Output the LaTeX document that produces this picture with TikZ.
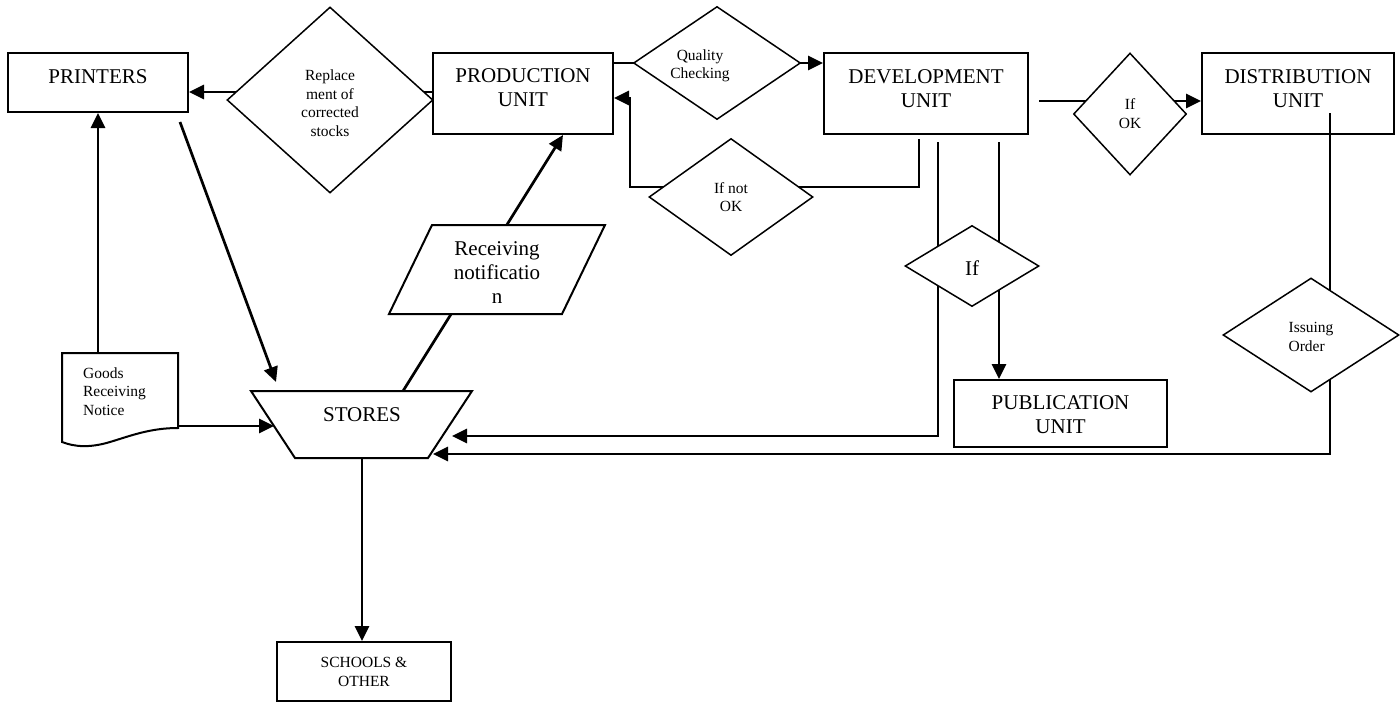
\documentclass[tikz,border=0pt]{standalone}
\usepackage{fontspec}
\setmainfont{Liberation Serif}
\usetikzlibrary{shapes.geometric,arrows.meta}
\pgfdeclarelayer{background}
\pgfsetlayers{background,main}

\tikzset{
  box/.style={draw, line width=2pt, rectangle, inner sep=0pt},
  dia/.style={draw, line width=1.5pt, diamond, fill=white, inner sep=0pt},
  big/.style={font=\fontsize{21}{24}\selectfont, align=center, inner sep=0pt},
  small/.style={font=\fontsize{15.5}{18.5}\selectfont, align=center, inner sep=0pt},
  outline/.style={line width=2pt, fill=white, line join=miter},
  conn/.style={line width=2.7pt, line join=miter},
  arr/.style={conn, -{Triangle[length=15pt,width=14pt]}},
}

\begin{document}
\begin{tikzpicture}[x=1pt,y=-1pt]
\useasboundingbox (0,0) rectangle (1400,704);

% process boxes
\node[box, minimum width=180, minimum height=59] (printers) at (98,82.5) {};
\node[big] (printersT) at (98,77) {PRINTERS};
\node[box, minimum width=180, minimum height=81] (prod) at (523,93.5) {};
\node[big] (prodT) at (523,88) {PRODUCTION\\UNIT};
\node[box, minimum width=204, minimum height=81] (dev) at (926,93.5) {};
\node[big] (devT) at (926,89) {DEVELOPMENT\\UNIT};
\node[box, minimum width=192, minimum height=81] (dist) at (1298,93.5) {};
\node[big] (distT) at (1298,89) {DISTRIBUTION\\UNIT};
\node[box, minimum width=213, minimum height=67] (pub) at (1060.5,413.5) {};
\node[big] (pubT) at (1060.5,415) {PUBLICATION\\UNIT};
\node[box, minimum width=174, minimum height=59] (schools) at (364,671.5) {};
\node[small] (schoolsT) at (364,672) {SCHOOLS \&\\OTHER};

% decisions
\node[dia, minimum width=206, minimum height=186] (replace) at (330,100) {};
\node[small] (replaceT) at (330,103) {Replace\\ment of\\corrected\\stocks};
\node[dia, minimum width=167, minimum height=113] (quality) at (717,63) {};
\node[small] (qualityT) at (700,66) {Quality\\Checking};
\node[dia, minimum width=164, minimum height=117] (ifnot) at (731,197) {};
\node[small] (ifnotT) at (731,197) {If not\\OK};
\node[dia, minimum width=113, minimum height=122] (ifok) at (1130,114) {};
\node[small] (ifokT) at (1130,113.5) {If\\OK};
\node[dia, minimum width=134, minimum height=81] (ifd) at (972,266) {};
\node[big] (ifdT) at (972,268) {If};
\node[dia, minimum width=176, minimum height=114] (issue) at (1311,335) {};
\node[small, align=left] (issueT) at (1311,337) {Issuing\\Order};

% store (inverted trapezium)
\draw[outline] (251,391) -- (472,391) -- (428,458) -- (295,458) -- cycle;
\node[big] (stores) at (362,415) {STORES};

% input slip (parallelogram)
\draw[outline] (389,314) -- (562,314) -- (605,225) -- (432,225) -- cycle;
\node[big] (recvT) at (497,273) {Receiving\\notificatio\\n};

% document
\draw[outline] (62,353) -- (178,353) -- (178,428)
  .. controls (150,428) and (130,436) .. (110,442)
  .. controls (90,448) and (75,447) .. (62,442) -- cycle;
\node[small, align=left] (grnT) at (114.5,391.5) {Goods\\Receiving\\Notice};

% connector ends
\coordinate (devA) at (919,139);
\coordinate (devB) at (938,142);
\coordinate (devC) at (999,142);
\coordinate (devD) at (1039,101);
\coordinate (distA) at (1330,113);
\coordinate (prnA) at (180,122);
\coordinate (stTop) at (403,391);
\coordinate (stBot) at (362,458);
\coordinate (stL) at (274,426);
\coordinate (stUp) at (276,382);
\coordinate (stR1) at (452,436);
\coordinate (stR2) at (433,454);
\coordinate (grnTop) at (98,353);
\coordinate (grnR) at (178,426);

\begin{pgfonlayer}{background}
  \draw[arr] (prod.west |- 0,92) -- (printers.east |- 0,92);
  \draw[arr] (prod.east |- 0,63) -- (dev.west |- 0,63);
  \draw[arr] (devA) -- (919,187) -- (630,187) -- (630,98) -- (prod.east |- 0,98);
  \draw[arr] (devD) -- (dist.west |- 0,101);
  \draw[arr] (devC) -- (pub.north -| devC);
  \draw[arr] (devB) -- (devB |- 0,436) -- (stR1);
  \draw[arr] (distA) -- (1330,454) -- (stR2);
  \draw[arr] (prnA) -- (stUp);
  \draw[arr] (grnTop) -- (printers.south -| grnTop);
  \draw[arr] (grnR) -- (stL);
  \draw[arr] (stTop) -- (prod.south -| 563,0);
  \draw[arr] (stBot) -- (schools.north -| stBot);
\end{pgfonlayer}
\end{tikzpicture}
\end{document}
